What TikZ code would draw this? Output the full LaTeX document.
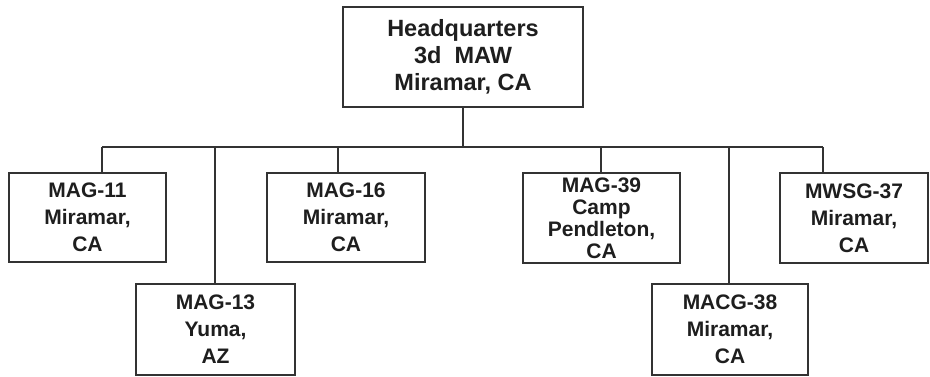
\documentclass[tikz,border=0pt]{standalone}
\usepackage{fontspec}
\setmainfont{Liberation Sans}
\definecolor{ln}{HTML}{333333}
\definecolor{tx}{HTML}{1E1E1E}
\begin{document}
\begin{tikzpicture}[x=1pt,y=1pt,
  box/.style={draw=ln,line width=2pt,fill=white,inner sep=0pt,align=center,
    text=tx,font=\fontsize{21}{27}\selectfont\bfseries},
  conn/.style={draw=ln,line width=2pt}]
\useasboundingbox (0,0) rectangle (930,377);
\node[box,minimum width=240,minimum height=100,font=\fontsize{23.5}{27}\selectfont\bfseries] (hq) at (463,320) {Headquarters\\3d\ \ MAW\\Miramar, CA};
\node[box,minimum width=157,minimum height=89] (m11) at (87.5,159.5) {MAG-11\\Miramar,\\CA};
\node[box,minimum width=159,minimum height=91] (m13) at (215.5,47.5) {MAG-13\\Yuma,\\AZ};
\node[box,minimum width=158,minimum height=89] (m16) at (346,159.5) {MAG-16\\Miramar,\\CA};
\node[box,minimum width=157,minimum height=90,font=\fontsize{21}{22}\selectfont\bfseries] (m39) at (601.5,159) {MAG-39\\Camp\\Pendleton,\\CA};
\node[box,minimum width=156,minimum height=91] (m38) at (730,47.5) {MACG-38\\Miramar,\\CA};
\node[box,minimum width=148,minimum height=90] (m37) at (854,159) {MWSG-37\\Miramar,\\CA};
\coordinate (d1) at (102,230);
\coordinate (d2) at (215,230);
\coordinate (d3) at (338,230);
\coordinate (d4) at (601,230);
\coordinate (d5) at (729,230);
\coordinate (d6) at (823,230);
\draw[conn] (hq.south) -- (hq.south |- d1);
\draw[conn] (d1) -- (d6);
\draw[conn] (d1) -- (d1 |- m11.north);
\draw[conn] (d2) -- (d2 |- m13.north);
\draw[conn] (d3) -- (d3 |- m16.north);
\draw[conn] (d4) -- (d4 |- m39.north);
\draw[conn] (d5) -- (d5 |- m38.north);
\draw[conn] (d6) -- (d6 |- m37.north);
\end{tikzpicture}
\end{document}
